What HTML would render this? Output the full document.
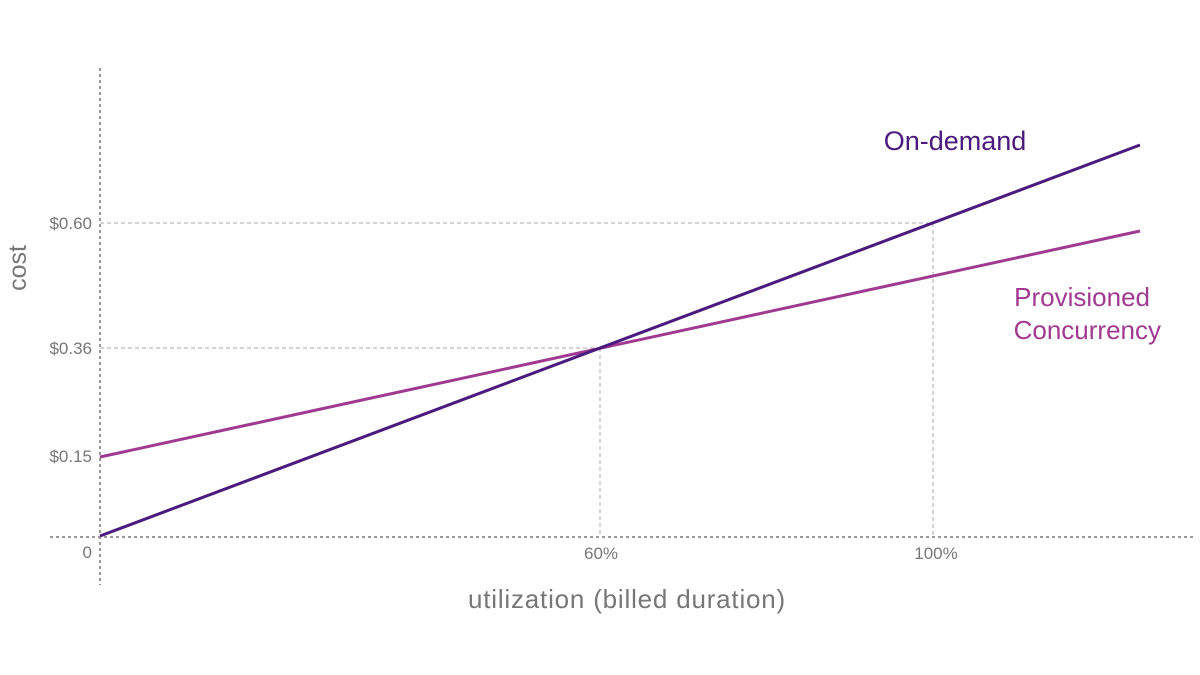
<!DOCTYPE html>
<html><head><meta charset="utf-8"><style>
html,body{margin:0;padding:0;background:#fff;}
svg{display:block;}
text{font-family:"Liberation Sans",sans-serif;}
</style></head><body>
<svg width="1200" height="675" xmlns="http://www.w3.org/2000/svg">
<rect width="1200" height="675" fill="#fff"/>
<g stroke="#aaa" stroke-width="1" stroke-dasharray="4,3" fill="none">
<line x1="100" y1="223" x2="933" y2="223"/>
<line x1="933" y1="223" x2="933" y2="537"/>
<line x1="100" y1="348" x2="600" y2="348"/>
<line x1="600" y1="348" x2="600" y2="537"/>
</g>
<g stroke="#999" stroke-width="2" stroke-dasharray="3,3" fill="none">
<line x1="100" y1="68" x2="100" y2="585"/>
<line x1="50" y1="537" x2="1195" y2="537"/>
</g>
<line x1="100" y1="457" x2="1140" y2="231" stroke="#a03a91" stroke-width="3"/>
<line x1="100" y1="536" x2="1140" y2="145" stroke="#4b1a7d" stroke-width="3"/>
<g fill="#777" font-size="17" text-anchor="end">
<text x="92" y="229">$0.60</text>
<text x="92" y="354">$0.36</text>
<text x="92" y="462">$0.15</text>
<text x="92" y="558">0</text>
</g>
<g fill="#777" font-size="17" text-anchor="middle">
<text x="601" y="559">60%</text>
<text x="936" y="559">100%</text>
</g>
<text x="627" y="608" fill="#777" font-size="26" letter-spacing="0.8" text-anchor="middle">utilization (billed duration)</text>
<text transform="translate(26,268) rotate(-90)" fill="#777" font-size="25" text-anchor="middle">cost</text>
<text x="955" y="150" fill="#4b1a7d" font-size="27" text-anchor="middle">On-demand</text>
<text x="1150" y="306" fill="#a03a91" font-size="26" text-anchor="end">Provisioned</text>
<text x="1161" y="339" fill="#a03a91" font-size="26" text-anchor="end">Concurrency</text>
</svg>
</body></html>
